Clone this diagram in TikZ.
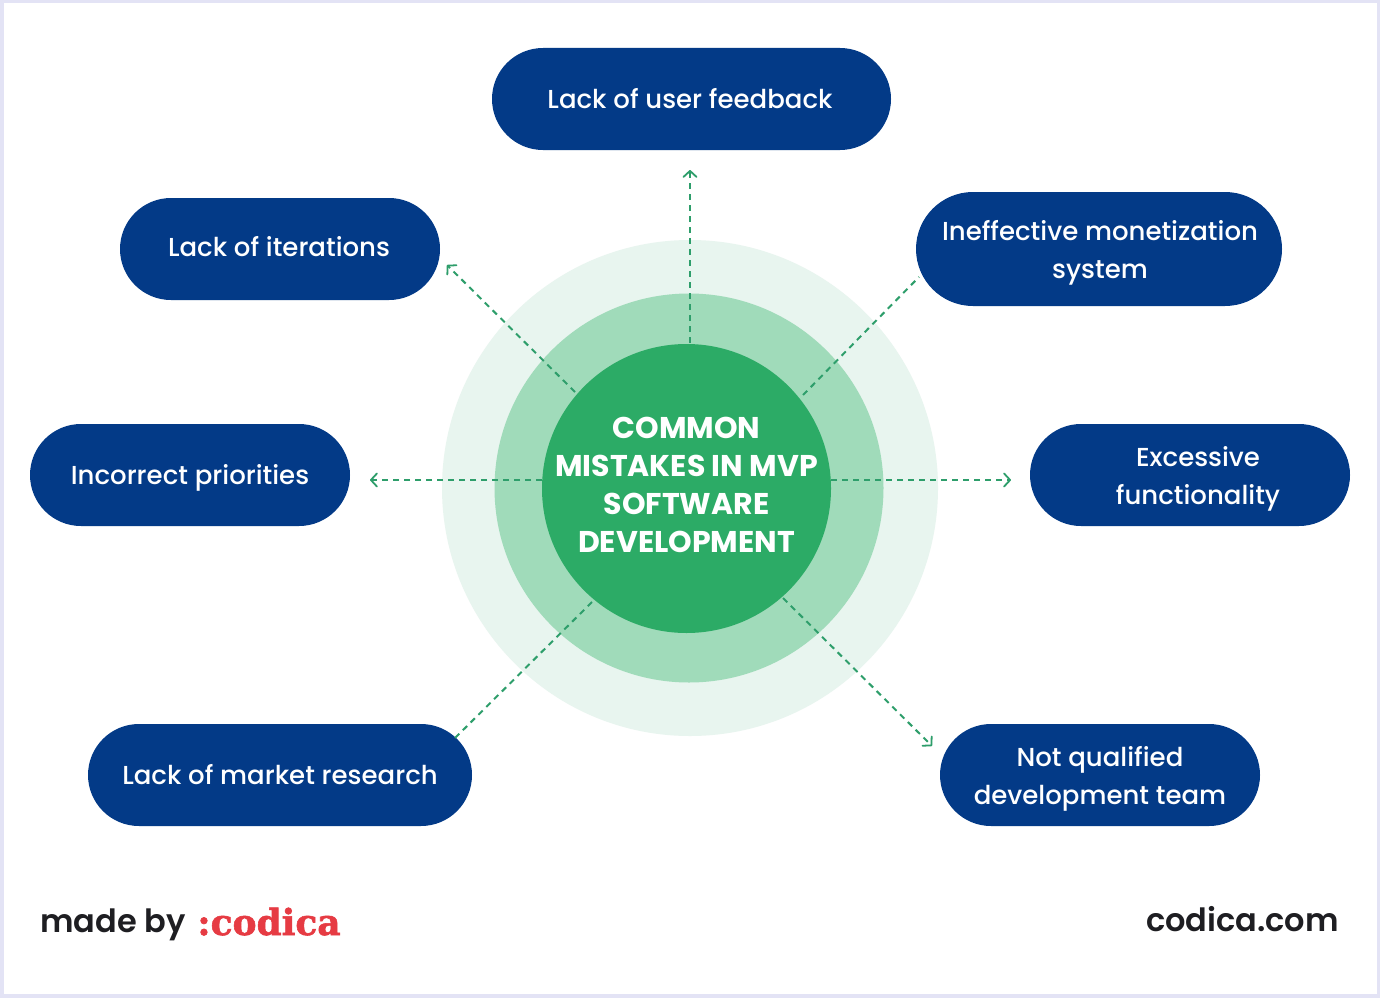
\documentclass[tikz,border=0pt]{standalone}
\usepackage{fontspec}
\setmainfont{Poppins}
\newfontfamily\pmed{Poppins Medium}
\newfontfamily\psemi{Poppins SemiBold}
\newfontfamily\logofont{DejaVu Serif}[BoldFont={DejaVu Serif Bold},BoldFeatures={FakeBold=1.6}]
\usetikzlibrary{shapes.misc,arrows.meta}
\definecolor{navy}{HTML}{033A87}
\definecolor{coregreen}{HTML}{2CAB66}
\definecolor{midgreen}{HTML}{A0DBBA}
\definecolor{lightgreen}{HTML}{E8F5EF}
\definecolor{linkgreen}{HTML}{2E9E6B}
\definecolor{pageedge}{HTML}{E3E3F5}
\definecolor{inkdark}{HTML}{1E1E22}
\definecolor{logored}{HTML}{E63B43}
\tikzset{
  pill/.style={rounded rectangle,fill=navy,draw=none,inner sep=0pt,outer sep=0pt},
  pilltext/.style={inner sep=0pt,outer sep=0pt,text=white,align=center,
    font=\fontsize{26}{38}\selectfont\pmed},
  ring/.style={circle,draw=none,inner sep=0pt,outer sep=0pt},
  link/.style={draw=linkgreen,line width=2pt,dash pattern=on 6pt off 5pt},
  linkarrow/.style={link,-{Straight Barb[length=6pt,width=13pt,line width=1.8pt,round]}},
  foot/.style={inner sep=0pt,outer sep=0pt,text=inkdark,anchor=base,font=\fontsize{32}{36}\selectfont\psemi}
}
\begin{document}
\begin{tikzpicture}[x=1pt,y=-1pt]
\useasboundingbox (0,0) rectangle (1380,998);
\fill[pageedge] (0,0) rectangle (1380,998);
\fill[white] (3.5,3.5) rectangle (1376.5,994);
\node[ring,fill=lightgreen,minimum size=496pt] (outer) at (690,488) {};
\node[ring,fill=midgreen,minimum size=389pt] (middle) at (689,488) {};
\node[ring,fill=coregreen,minimum size=289pt] (core) at (686.5,488.5) {};
\node[inner sep=0pt,outer sep=0pt,text=white,align=center,
  font=\fontsize{30}{38}\selectfont\bfseries] (coretext) at (686.5,485) {COMMON\\MISTAKES IN MVP\\SOFTWARE\\DEVELOPMENT};
\node[pill,minimum width=399pt,minimum height=102pt] (feedback) at (691.5,99) {};
\node[pilltext] (feedbacktext) at (690,99) {Lack of user feedback};
\node[pill,minimum width=320pt,minimum height=102pt] (iterations) at (280,249) {};
\node[pilltext] (iterationstext) at (279,247) {Lack of iterations};
\node[pill,minimum width=366pt,minimum height=114pt] (monetization) at (1099,249) {};
\node[pilltext] (monetizationtext) at (1100,252.5) {Ineffective monetization\\system};
\node[pill,minimum width=320pt,minimum height=102pt] (priorities) at (190,475) {};
\node[pilltext] (prioritiestext) at (190,478) {Incorrect priorities};
\node[pill,minimum width=320pt,minimum height=102pt] (excessive) at (1190,475) {};
\node[pilltext] (excessivetext) at (1198,478.5) {Excessive\\functionality};
\node[pill,minimum width=384pt,minimum height=102pt] (market) at (280,775) {};
\node[pilltext] (markettext) at (280,775) {Lack of market research};
\node[pill,minimum width=320pt,minimum height=102pt] (team) at (1100,775) {};
\node[pilltext] (teamtext) at (1100,778.5) {Not qualified\\development team};
\coordinate (tipfeedback) at (690,170);
\coordinate (tipiterations) at (447,265);
\coordinate (tippriorities) at (370,480);
\coordinate (tipexcessive) at (1011,480);
\coordinate (tipteam) at (932,746);
\coordinate (endmonetization) at (919,277);
\coordinate (endmarket) at (455,738);
\draw[linkarrow] ([shift={(3.5,-146)}]core.center) -- (tipfeedback);
\draw[linkarrow] ([shift={(-111.5,-96.5)}]core.center) -- (tipiterations);
\draw[linkarrow] ([shift={(-144.5,-8.5)}]core.center) -- (tippriorities);
\draw[linkarrow] ([shift={(144.5,-8.5)}]core.center) -- (tipexcessive);
\draw[linkarrow] ([shift={(96.5,109.5)}]core.center) -- (tipteam);
\draw[link] ([shift={(116.5,-93.5)}]core.center) -- (endmonetization);
\draw[link] ([shift={(-94.5,113.5)}]core.center) -- (endmarket);
\node[foot] (madeby) at (113,932) {made by};
\node[foot,text=logored,font=\fontsize{36}{36}\selectfont\logofont\bfseries] (logo) at (269,935) {:codica};
\node[foot] (site) at (1242.5,931) {codica.com};
\end{tikzpicture}
\end{document}
